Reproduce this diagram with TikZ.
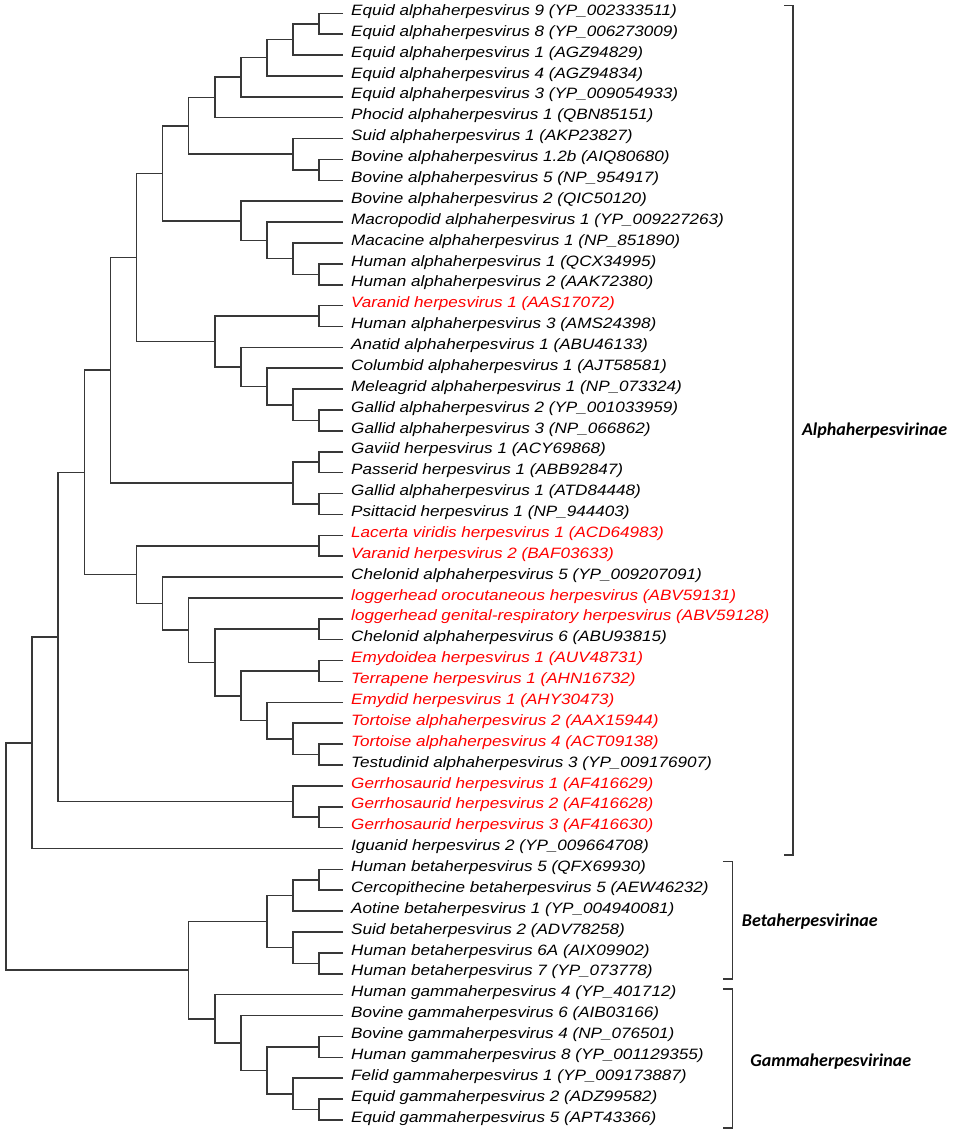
\documentclass[tikz,border=0pt]{standalone}
\usepackage{fontspec}
\newfontfamily\leaffont[FakeStretch=1.14]{Liberation Sans}
\newfontfamily\cladefont{Carlito}
\definecolor{treegray}{HTML}{383838}
\definecolor{hred}{HTML}{FF0000}
\newcommand\treejoin[3]{\draw[br] (#2) -| (#1) |- (#3);}
\begin{document}
\begin{tikzpicture}[x=26.1pt,y=-20.88pt,
  br/.style={draw=treegray, line width=1.55pt},
  leaf/.style={anchor=mid west, inner xsep=8pt, inner ysep=0pt, font=\leaffont\itshape\fontsize{15}{18}\selectfont, text=black},
  redleaf/.style={leaf, text=hred},
  clade/.style={anchor=mid west, inner sep=0pt, font=\cladefont\bfseries\itshape\fontsize{18}{20}\selectfont}]
\useasboundingbox (-6pt,-7.58pt) rectangle (951pt,-1141.58pt);
% leaves
\def\lx{12.912}
\node[leaf] (l1) at (\lx,1) {Equid alphaherpesvirus 9 (YP\_002333511)};
\node[leaf] (l2) at (\lx,2) {Equid alphaherpesvirus 8 (YP\_006273009)};
\node[leaf] (l3) at (\lx,3) {Equid alphaherpesvirus 1 (AGZ94829)};
\node[leaf] (l4) at (\lx,4) {Equid alphaherpesvirus 4 (AGZ94834)};
\node[leaf] (l5) at (\lx,5) {Equid alphaherpesvirus 3 (YP\_009054933)};
\node[leaf] (l6) at (\lx,6) {Phocid alphaherpesvirus 1 (QBN85151)};
\node[leaf] (l7) at (\lx,7) {Suid alphaherpesvirus 1 (AKP23827)};
\node[leaf] (l8) at (\lx,8) {Bovine alphaherpesvirus 1.2b (AIQ80680)};
\node[leaf] (l9) at (\lx,9) {Bovine alphaherpesvirus 5 (NP\_954917)};
\node[leaf] (l10) at (\lx,10) {Bovine alphaherpesvirus 2 (QIC50120)};
\node[leaf] (l11) at (\lx,11) {Macropodid alphaherpesvirus 1 (YP\_009227263)};
\node[leaf] (l12) at (\lx,12) {Macacine alphaherpesvirus 1 (NP\_851890)};
\node[leaf] (l13) at (\lx,13) {Human alphaherpesvirus 1 (QCX34995)};
\node[leaf] (l14) at (\lx,14) {Human alphaherpesvirus 2 (AAK72380)};
\node[redleaf] (l15) at (\lx,15) {Varanid herpesvirus 1 (AAS17072)};
\node[leaf] (l16) at (\lx,16) {Human alphaherpesvirus 3 (AMS24398)};
\node[leaf] (l17) at (\lx,17) {Anatid alphaherpesvirus 1 (ABU46133)};
\node[leaf] (l18) at (\lx,18) {Columbid alphaherpesvirus 1 (AJT58581)};
\node[leaf] (l19) at (\lx,19) {Meleagrid alphaherpesvirus 1 (NP\_073324)};
\node[leaf] (l20) at (\lx,20) {Gallid alphaherpesvirus 2 (YP\_001033959)};
\node[leaf] (l21) at (\lx,21) {Gallid alphaherpesvirus 3 (NP\_066862)};
\node[leaf] (l22) at (\lx,22) {Gaviid herpesvirus 1 (ACY69868)};
\node[leaf] (l23) at (\lx,23) {Passerid herpesvirus 1 (ABB92847)};
\node[leaf] (l24) at (\lx,24) {Gallid alphaherpesvirus 1 (ATD84448)};
\node[leaf] (l25) at (\lx,25) {Psittacid herpesvirus 1 (NP\_944403)};
\node[redleaf] (l26) at (\lx,26) {Lacerta viridis herpesvirus 1 (ACD64983)};
\node[redleaf] (l27) at (\lx,27) {Varanid herpesvirus 2 (BAF03633)};
\node[leaf] (l28) at (\lx,28) {Chelonid alphaherpesvirus 5 (YP\_009207091)};
\node[redleaf] (l29) at (\lx,29) {loggerhead orocutaneous herpesvirus (ABV59131)};
\node[redleaf] (l30) at (\lx,30) {loggerhead genital-respiratory herpesvirus (ABV59128)};
\node[leaf] (l31) at (\lx,31) {Chelonid alphaherpesvirus 6 (ABU93815)};
\node[redleaf] (l32) at (\lx,32) {Emydoidea herpesvirus 1 (AUV48731)};
\node[redleaf] (l33) at (\lx,33) {Terrapene herpesvirus 1 (AHN16732)};
\node[redleaf] (l34) at (\lx,34) {Emydid herpesvirus 1 (AHY30473)};
\node[redleaf] (l35) at (\lx,35) {Tortoise alphaherpesvirus 2 (AAX15944)};
\node[redleaf] (l36) at (\lx,36) {Tortoise alphaherpesvirus 4 (ACT09138)};
\node[leaf] (l37) at (\lx,37) {Testudinid alphaherpesvirus 3 (YP\_009176907)};
\node[redleaf] (l38) at (\lx,38) {Gerrhosaurid herpesvirus 1 (AF416629)};
\node[redleaf] (l39) at (\lx,39) {Gerrhosaurid herpesvirus 2 (AF416628)};
\node[redleaf] (l40) at (\lx,40) {Gerrhosaurid herpesvirus 3 (AF416630)};
\node[leaf] (l41) at (\lx,41) {Iguanid herpesvirus 2 (YP\_009664708)};
\node[leaf] (l42) at (\lx,42) {Human betaherpesvirus 5 (QFX69930)};
\node[leaf] (l43) at (\lx,43) {Cercopithecine betaherpesvirus 5 (AEW46232)};
\node[leaf] (l44) at (\lx,44) {Aotine betaherpesvirus 1 (YP\_004940081)};
\node[leaf] (l45) at (\lx,45) {Suid betaherpesvirus 2 (ADV78258)};
\node[leaf] (l46) at (\lx,46) {Human betaherpesvirus 6A (AIX09902)};
\node[leaf] (l47) at (\lx,47) {Human betaherpesvirus 7 (YP\_073778)};
\node[leaf] (l48) at (\lx,48) {Human gammaherpesvirus 4 (YP\_401712)};
\node[leaf] (l49) at (\lx,49) {Bovine gammaherpesvirus 6 (AIB03166)};
\node[leaf] (l50) at (\lx,50) {Bovine gammaherpesvirus 4 (NP\_076501)};
\node[leaf] (l51) at (\lx,51) {Human gammaherpesvirus 8 (YP\_001129355)};
\node[leaf] (l52) at (\lx,52) {Felid gammaherpesvirus 1 (YP\_009173887)};
\node[leaf] (l53) at (\lx,53) {Equid gammaherpesvirus 2 (ADZ99582)};
\node[leaf] (l54) at (\lx,54) {Equid gammaherpesvirus 5 (APT43366)};
% internal nodes
\coordinate (a1) at (12,1.5);
\coordinate (a2) at (11,2.25);
\coordinate (a3) at (10,3.125);
\coordinate (a4) at (9,4.0625);
\coordinate (a5) at (8,5.03125);
\coordinate (a6) at (12,8.5);
\coordinate (a7) at (11,7.75);
\coordinate (a8) at (7,6.390625);
\coordinate (b1) at (12,13.5);
\coordinate (b2) at (11,12.75);
\coordinate (b3) at (10,11.875);
\coordinate (b4) at (9,10.9375);
\coordinate (b5) at (6,8.6640625);
\coordinate (c1) at (12,15.5);
\coordinate (c2) at (12,20.5);
\coordinate (c3) at (11,19.75);
\coordinate (c4) at (10,18.875);
\coordinate (c5) at (9,17.9375);
\coordinate (c6) at (8,16.71875);
\coordinate (c7) at (5,12.69140625);
\coordinate (d1) at (12,22.5);
\coordinate (d2) at (12,24.5);
\coordinate (d3) at (11,23.5);
\coordinate (d4) at (4,18.095703);
\coordinate (e1) at (12,26.5);
\coordinate (e2) at (12,36.5);
\coordinate (e3) at (11,35.75);
\coordinate (e4) at (10,34.875);
\coordinate (e5) at (12,32.5);
\coordinate (e6) at (9,33.6875);
\coordinate (e7) at (12,30.5);
\coordinate (e8) at (8,32.09375);
\coordinate (e9) at (7,30.546875);
\coordinate (e10) at (6,29.2734375);
\coordinate (e11) at (5,27.88671875);
\coordinate (e12) at (3,22.991211);
\coordinate (f1) at (12,39.5);
\coordinate (f2) at (11,38.75);
\coordinate (f3) at (2,30.870605);
\coordinate (f4) at (1,35.935303);
\coordinate (g1) at (12,42.5);
\coordinate (g2) at (11,43.25);
\coordinate (g3) at (12,46.5);
\coordinate (g4) at (11,45.75);
\coordinate (g5) at (10,44.5);
\coordinate (h1) at (12,50.5);
\coordinate (h2) at (12,53.5);
\coordinate (h3) at (11,52.75);
\coordinate (h4) at (10,51.625);
\coordinate (h5) at (9,50.3125);
\coordinate (h6) at (8,49.15625);
\coordinate (h7) at (7,46.828125);
\coordinate (root) at (0,41.381714);
% branches
\treejoin{a1}{l1.mid west}{l2.mid west}
\treejoin{a2}{a1}{l3.mid west}
\treejoin{a3}{a2}{l4.mid west}
\treejoin{a4}{a3}{l5.mid west}
\treejoin{a5}{a4}{l6.mid west}
\treejoin{a6}{l8.mid west}{l9.mid west}
\treejoin{a7}{l7.mid west}{a6}
\treejoin{a8}{a5}{a7}
\treejoin{b1}{l13.mid west}{l14.mid west}
\treejoin{b2}{l12.mid west}{b1}
\treejoin{b3}{l11.mid west}{b2}
\treejoin{b4}{l10.mid west}{b3}
\treejoin{b5}{a8}{b4}
\treejoin{c1}{l15.mid west}{l16.mid west}
\treejoin{c2}{l20.mid west}{l21.mid west}
\treejoin{c3}{l19.mid west}{c2}
\treejoin{c4}{l18.mid west}{c3}
\treejoin{c5}{l17.mid west}{c4}
\treejoin{c6}{c1}{c5}
\treejoin{c7}{b5}{c6}
\treejoin{d1}{l22.mid west}{l23.mid west}
\treejoin{d2}{l24.mid west}{l25.mid west}
\treejoin{d3}{d1}{d2}
\treejoin{d4}{c7}{d3}
\treejoin{e1}{l26.mid west}{l27.mid west}
\treejoin{e2}{l36.mid west}{l37.mid west}
\treejoin{e3}{l35.mid west}{e2}
\treejoin{e4}{l34.mid west}{e3}
\treejoin{e5}{l32.mid west}{l33.mid west}
\treejoin{e6}{e5}{e4}
\treejoin{e7}{l30.mid west}{l31.mid west}
\treejoin{e8}{e7}{e6}
\treejoin{e9}{l29.mid west}{e8}
\treejoin{e10}{l28.mid west}{e9}
\treejoin{e11}{e1}{e10}
\treejoin{e12}{d4}{e11}
\treejoin{f1}{l39.mid west}{l40.mid west}
\treejoin{f2}{l38.mid west}{f1}
\treejoin{f3}{e12}{f2}
\treejoin{f4}{f3}{l41.mid west}
\treejoin{g1}{l42.mid west}{l43.mid west}
\treejoin{g2}{g1}{l44.mid west}
\treejoin{g3}{l46.mid west}{l47.mid west}
\treejoin{g4}{l45.mid west}{g3}
\treejoin{g5}{g2}{g4}
\treejoin{h1}{l50.mid west}{l51.mid west}
\treejoin{h2}{l53.mid west}{l54.mid west}
\treejoin{h3}{l52.mid west}{h2}
\treejoin{h4}{h1}{h3}
\treejoin{h5}{l49.mid west}{h4}
\treejoin{h6}{l48.mid west}{h5}
\treejoin{h7}{g5}{h6}
\treejoin{root}{f4}{h7}
% clade brackets
\coordinate (at1) at (29.81,0.636); \coordinate (at2) at (30.15,0.636);
\coordinate (ab2) at (30.15,41.31); \coordinate (ab1) at (29.81,41.31);
\draw[br] (at1) -- (at2) -- (ab2) -- (ab1);
\coordinate (bt1) at (27.47,41.63); \coordinate (bt2) at (27.83,41.63);
\coordinate (bb2) at (27.83,47.25); \coordinate (bb1) at (27.47,47.25);
\draw[br] (bt1) -- (bt2) -- (bb2) -- (bb1);
\coordinate (gt1) at (27.47,47.73); \coordinate (gt2) at (27.83,47.73);
\coordinate (gb2) at (27.83,54.39); \coordinate (gb1) at (27.47,54.39);
\draw[br] (gt1) -- (gt2) -- (gb2) -- (gb1);
\node[clade] (alpha) at (30.49,21.10) {Alphaherpesvirinae};
\node[clade] (beta) at (28.19,44.62) {Betaherpesvirinae};
\node[clade] (gamma) at (28.51,51.32) {Gammaherpesvirinae};
\end{tikzpicture}
\end{document}
